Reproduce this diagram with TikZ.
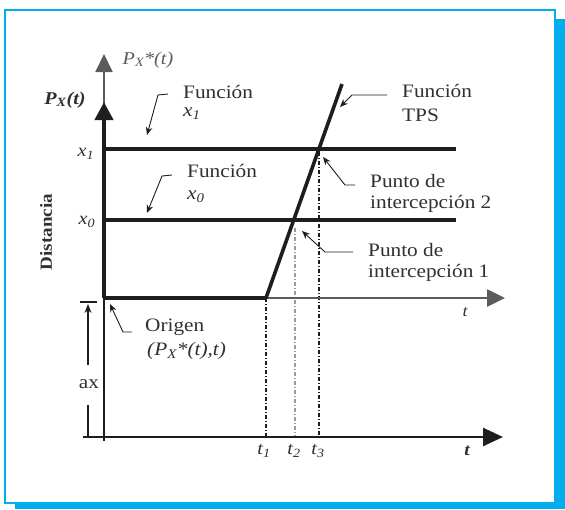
\documentclass[tikz,border=0pt]{standalone}
\usepackage{fontspec}
\setmainfont[FakeStretch=1.12]{Liberation Serif}
\usetikzlibrary{arrows.meta}
\definecolor{framec}{HTML}{00AEEF}
\definecolor{ink}{HTML}{1E1E1E}
\definecolor{greyax}{HTML}{5C5C5C}
\definecolor{txt}{HTML}{303030}
\definecolor{lightdd}{HTML}{9A9A9A}
\begin{document}
\begin{tikzpicture}[x=1pt,y=-1pt,
  lbl/.style={text=txt, font=\fontsize{19}{20}\selectfont, inner sep=0pt, anchor=west},
  mlbl/.style={text=txt, font=\fontsize{18}{20}\selectfont\itshape, inner sep=0pt},
  leader/.style={draw=ink, line width=0.9pt, -{Stealth[length=8pt,width=6.5pt]}},
  thickln/.style={ink, line width=3.6pt},
  ddline/.style={ink, line width=1.3pt, dash pattern=on 4pt off 2pt on 1pt off 2pt},
]
\useasboundingbox (0,0) rectangle (565,509);
% frame with shadow
\fill[framec] (15,19) rectangle (565,509);
\draw[framec, fill=white, line width=1.5pt] (5,10) rectangle (555,503);

% key points
\coordinate (O) at (104,298);
\coordinate (T1) at (266,298);
\coordinate (Ttop) at (342,84);
\coordinate (X1l) at (104,149);
\coordinate (X1r) at (456,149);
\coordinate (X0l) at (104,220);
\coordinate (X0r) at (456,220);
\coordinate (I2) at (319,152);
\coordinate (I1) at (295,228);
\coordinate (B1) at (266,437);
\coordinate (B2) at (295,437);
\coordinate (B3) at (319,437);
\coordinate (VtopS) at (104,120);
\coordinate (VtopE) at (104,54);
\coordinate (VthkE) at (104,102);
\coordinate (Vbot) at (104,441);
\coordinate (Tax1) at (505,298);
\coordinate (Tax2s) at (83,437);
\coordinate (Tax2e) at (503,437);

% dash-dot projections
\draw[ddline] (T1) -- (B1);
\draw[ddline, lightdd] (I1) -- (B2);
\draw[ddline] (I2) -- (B3);

% axes
\draw[greyax, line width=2pt, -{Triangle[length=18pt,width=17pt]}] (VtopS) -- (VtopE);
\draw[greyax, line width=2.6pt, -{Triangle[length=18pt,width=17pt]}] (O) -- (Tax1);
\draw[ink, line width=2.2pt] (104,296) -- (Vbot);
\draw[ink, line width=2.6pt, -{Triangle[length=20pt,width=18pt]}] (Tax2s) -- (Tax2e);
\draw[ink, line width=4pt, -{Triangle[length=18pt,width=18pt]}] (O) -- (VthkE);

% function lines
\draw[thickln] (X1l) -- (X1r);
\draw[thickln] (X0l) -- (X0r);
\draw[thickln, line join=round] (O) -- (T1) -- (Ttop);

% ax dimension
\coordinate (axT1) at (80,302);
\coordinate (axT2) at (97,302);
\coordinate (axA) at (88,304);
\coordinate (axB) at (88,437);
\draw[ink, line width=1.6pt] (axT1) -- (axT2);
\node[lbl, anchor=center] (ax) at (89,384) {ax};
\draw[ink, line width=1.1pt, -{Stealth[length=9pt,width=7pt]}] (88,365) -- (axA);
\draw[ink, line width=1.1pt] (88,405) -- (axB);

% axis labels
\node[rotate=90, text=txt, font=\fontsize{17}{18}\selectfont\bfseries, inner sep=0pt] (dist) at (46,232) {Distancia};
\node[mlbl, text=greyax] (pxs) at (148,60) {P\textsubscript{X}*(t)};
\node[mlbl, font=\fontsize{18}{20}\selectfont\itshape\bfseries] (px) at (65,100) {P\textsubscript{X}(t)};
\node[mlbl] (lx1) at (86,154) {x\textsubscript{1}};
\node[mlbl] (lx0) at (87,222) {x\textsubscript{0}};
\node[mlbl, font=\fontsize{16}{18}\selectfont\itshape] (tu) at (465,312) {t};
\node[mlbl, font=\fontsize{17}{18}\selectfont\itshape\bfseries] (tl) at (467,451) {t};
\node[mlbl] (lt1) at (264,451) {t\textsubscript{1}};
\node[mlbl] (lt2) at (294,451) {t\textsubscript{2}};
\node[mlbl] (lt3) at (318,451) {t\textsubscript{3}};

% annotations
\node[lbl] (f1a) at (183,92) {Función};
\node[lbl, font=\fontsize{19}{20}\selectfont\itshape] (f1b) at (183,114) {x\textsubscript{1}};
\node[lbl] (f0a) at (187,171) {Función};
\node[lbl, font=\fontsize{19}{20}\selectfont\itshape] (f0b) at (187,197) {x\textsubscript{0}};
\node[lbl] (fta) at (402,91) {Función};
\node[lbl] (ftb) at (402,115) {TPS};
\node[lbl] (p2a) at (370,181) {Punto de};
\node[lbl] (p2b) at (370,204) {intercepción 2};
\node[lbl] (p1a) at (368,250) {Punto de};
\node[lbl] (p1b) at (368,273) {intercepción 1};
\node[lbl] (ora) at (145,327) {Origen};
\node[lbl, font=\fontsize{19}{20}\selectfont\itshape] (orb) at (147,351) {(P\textsubscript{X}*(t),t)};

% leaders
\coordinate (l1s) at (168,94);  \coordinate (l1m) at (158,95);  \coordinate (l1e) at (147,135);
\coordinate (l0s) at (172,175); \coordinate (l0m) at (162,176); \coordinate (l0e) at (147,213);
\coordinate (lts) at (387,95);  \coordinate (ltm) at (352,95);  \coordinate (lte) at (340,107);
\coordinate (l2s) at (355,185); \coordinate (l2m) at (345,185); \coordinate (l2e) at (323,157);
\coordinate (lps) at (353,252); \coordinate (lpm) at (325,252); \coordinate (lpe) at (302,231);
\coordinate (los) at (132,332); \coordinate (lom) at (123,332); \coordinate (loe) at (110,304);
\draw[leader] (l1s) -- (l1m) -- (l1e);
\draw[leader] (l0s) -- (l0m) -- (l0e);
\draw[leader] (lts) -- (ltm) -- (lte);
\draw[leader] (l2s) -- (l2m) -- (l2e);
\draw[leader] (lps) -- (lpm) -- (lpe);
\draw[leader] (los) -- (lom) -- (loe);
\end{tikzpicture}
\end{document}
